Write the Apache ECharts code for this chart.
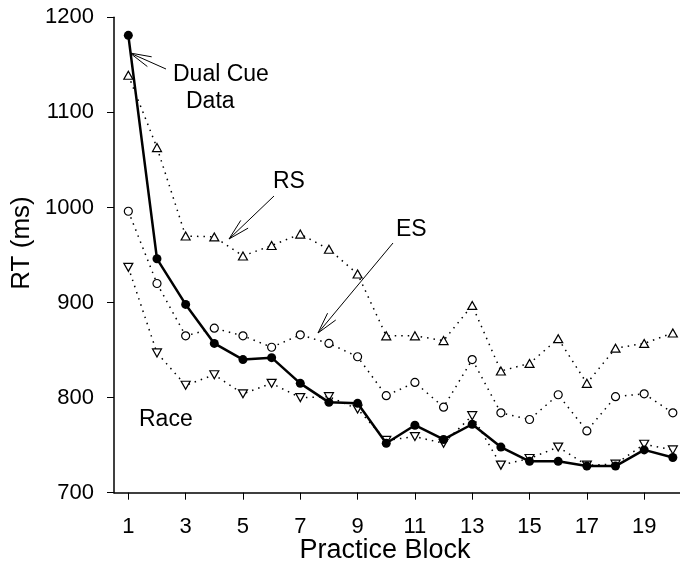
<!DOCTYPE html>
<html>
<head>
<meta charset="utf-8">
<script src="https://cdn.jsdelivr.net/npm/echarts@6/dist/echarts.min.js"></script>
<style>html,body{margin:0;padding:0;background:#fff}#c{width:680px;height:565px}</style>
</head>
<body>
<div id="c"></div>
<script>
var blocks = [1,2,3,4,5,6,7,8,9,10,11,12,13,14,15,16,17,18,19,20];
var dualCue = [1181, 946, 898, 857, 840, 842, 815, 795, 794, 752, 771, 756, 772, 748, 733, 733, 728, 728, 745, 737];
var rsModel = [1139, 1063, 970, 969, 949, 960, 972, 956, 930, 865, 865, 860, 897, 828, 836, 862, 815, 852, 857, 868];
var esModel = [996, 920, 865, 873, 865, 853, 866, 857, 843, 802, 816, 790, 840, 784, 777, 803, 765, 801, 804, 784];
var raceModel = [937, 847, 813, 824, 804, 815, 800, 801, 788, 755, 759, 752, 781, 729, 736, 748, 729, 730, 751, 745];
var xTicks = [1,3,5,7,9,11,13,15,17,19];
var yTicks = [700, 800, 900, 1000, 1100, 1200];

function pairs(vals){ return blocks.map(function(b,i){ return [b, vals[i]]; }); }

var FONT = '"Liberation Sans", Arial, Helvetica, sans-serif';

function arrow(tx, ty, hx, hy){
  var ang = Math.atan2(ty - hy, tx - hx);
  var L = 22, a = 14 * Math.PI / 180;
  var st = {stroke:'#000', lineWidth:1};
  return [
    {type:'line', shape:{x1:tx,y1:ty,x2:hx,y2:hy}, style:st, silent:true},
    {type:'line', shape:{x1:hx,y1:hy,x2:hx+L*Math.cos(ang+a),y2:hy+L*Math.sin(ang+a)}, style:st, silent:true},
    {type:'line', shape:{x1:hx,y1:hy,x2:hx+L*Math.cos(ang-a),y2:hy+L*Math.sin(ang-a)}, style:st, silent:true}
  ];
}
function label(txt, x, y, size, align){
  return {type:'text', x:x, y:y, silent:true,
    style:{text:txt, fill:'#000', font: size + 'px ' + FONT, textAlign: align || 'left', textVerticalAlign:'middle'}};
}

var openItem = {color:'#fff', borderColor:'#000', borderWidth:1.2};
var dotLine = {color:'#000', width:1.5, type:[1.5,5]};

var chart = echarts.init(document.getElementById('c'), null, {renderer:'canvas'});
var graphics = [].concat(
  arrow(166, 69, 130, 53),
  arrow(274, 196, 229, 239),
  arrow(393, 243, 318, 333),
  [
    label('Dual Cue', 173, 75, 23),
    label('Data', 186, 102, 23),
    label('RS', 273, 182, 23),
    label('ES', 396, 230, 23),
    label('Race', 139, 420, 23),
    {type:'text', x:22, y:243, rotation:Math.PI/2, silent:true,
      style:{text:'RT (ms)', fill:'#000', font:'26px ' + FONT, textAlign:'center', textVerticalAlign:'middle'}},
    label('Practice Block', 385, 551, 27, 'center')
  ]
);

chart.setOption({
  animation:false,
  backgroundColor:'#fff',
  grid:{left:114, right:0, top:17.3, bottom:72.3, containLabel:false},
  xAxis:{
    type:'value', min:0.5, max:20.25,
    axisLine:{show:true, lineStyle:{color:'#000', width:1.5}},
    axisTick:{show:true, length:7, lineStyle:{color:'#000', width:1}, customValues: xTicks},
    axisLabel:{color:'#000', fontSize:22, fontFamily:FONT, margin:23, customValues: xTicks,
      formatter:function(v){ return String(v); }},
    splitLine:{show:false}
  },
  yAxis:{
    type:'value', min:700, max:1200, interval:100,
    axisLine:{show:true, lineStyle:{color:'#000', width:1.5}},
    axisTick:{show:true, length:7, lineStyle:{color:'#000', width:1}},
    axisLabel:{color:'#000', fontSize:22, fontFamily:FONT, margin:20, customValues: yTicks,
      formatter:function(v){ return String(v); }},
    splitLine:{show:false}
  },
  series:[
    {name:'RS', type:'line', data:pairs(rsModel), symbol:'triangle', symbolSize:[9,8],
      lineStyle:dotLine, itemStyle:openItem, z:2},
    {name:'ES', type:'line', data:pairs(esModel), symbol:'circle', symbolSize:8,
      lineStyle:dotLine, itemStyle:openItem, z:2},
    {name:'Race', type:'line', data:pairs(raceModel), symbol:'triangle', symbolRotate:180, symbolSize:[9,8],
      lineStyle:dotLine, itemStyle:openItem, z:3},
    {name:'Dual Cue Data', type:'line', data:pairs(dualCue), symbol:'circle', symbolSize:9,
      lineStyle:{color:'#000', width:2.5}, itemStyle:{color:'#000', borderColor:'#000', borderWidth:0}, z:4}
  ],
  graphic: graphics
});
</script>
</body>
</html>
